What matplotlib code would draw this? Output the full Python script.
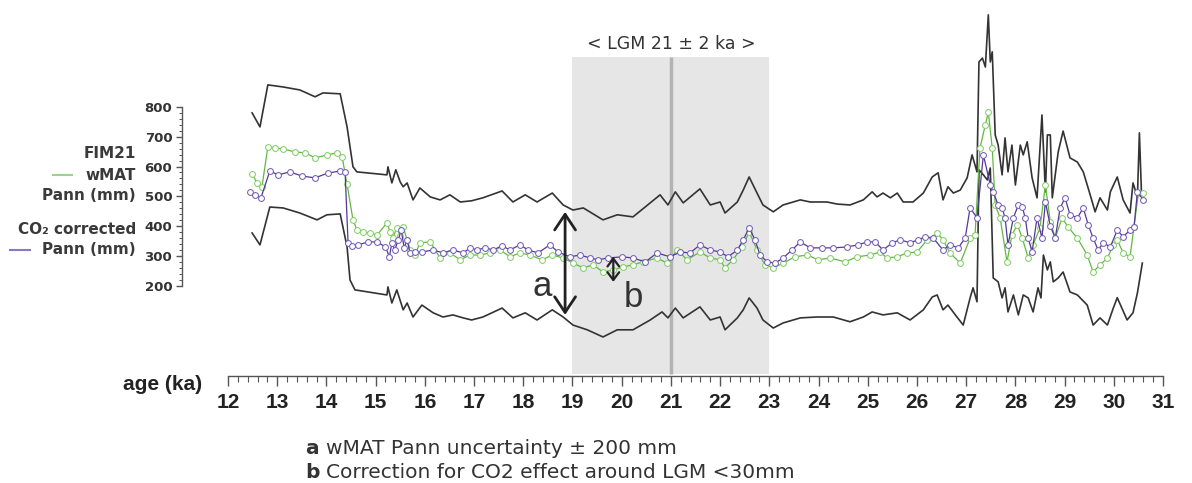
import matplotlib
matplotlib.use('Agg')
import matplotlib.pyplot as plt
from matplotlib.lines import Line2D
from matplotlib.ticker import MultipleLocator, FixedLocator

# ---------------- data ----------------
upper_age = [12.49, 12.65, 12.81, 13.12, 13.46, 13.77, 13.93, 14.28, 14.42, 14.54, 14.62,
             15.23, 15.25, 15.33, 15.41, 15.50, 15.56, 15.64, 15.76, 15.90, 16.11, 16.31,
             16.51, 16.72, 16.95, 17.18, 17.57, 17.79, 18.04, 18.28, 18.59, 18.81, 19.01,
             19.22, 19.62, 19.91, 20.23, 20.58, 20.78, 20.94, 21.09, 21.25, 21.59, 21.80,
             22.00, 22.10, 22.35, 22.47, 22.59, 22.75, 22.87, 23.08, 23.28, 23.63, 23.83,
             24.17, 24.38, 24.64, 24.91, 25.09, 25.19, 25.31, 25.46, 25.60, 25.72, 25.92,
             26.13, 26.31, 26.43, 26.53, 26.63, 26.74, 26.88, 27.02, 27.12, 27.22, 27.26,
             27.33, 27.39, 27.45, 27.49, 27.53, 27.59, 27.65, 27.73, 27.79, 27.85, 27.93,
             28.00, 28.10, 28.16, 28.24, 28.34, 28.44, 28.54, 28.61, 28.65, 28.71, 28.75,
             28.87, 28.97, 29.11, 29.26, 29.38, 29.52, 29.62, 29.72, 29.87, 29.93, 30.07,
             30.19, 30.33, 30.39, 30.48, 30.52, 30.56]
upper_val = [780, 733, 874, 867, 857, 834, 847, 844, 733, 599, 582,
             572, 599, 545, 589, 548, 532, 545, 488, 528, 498, 488,
             505, 481, 485, 495, 518, 481, 505, 481, 511, 471, 454,
             461, 421, 438, 431, 478, 505, 471, 515, 478, 525, 471,
             481, 444, 481, 521, 565, 511, 471, 448, 471, 488, 481,
             481, 474, 471, 488, 515, 498, 511, 495, 511, 481, 481,
             511, 565, 579, 488, 532, 511, 521, 562, 639, 582, 951,
             964, 934, 1109, 951, 985, 706, 672, 572, 696, 582, 672,
             538, 672, 639, 683, 562, 495, 773, 515, 706, 706, 495,
             649, 719, 629, 615, 582, 505, 448, 495, 454, 515, 565,
             488, 444, 545, 498, 713, 521]

lower_age = [12.49, 12.65, 12.85, 13.12, 13.46, 13.81, 14.01, 14.28, 14.42, 14.48, 14.58,
             15.23, 15.25, 15.33, 15.43, 15.56, 15.64, 15.76, 15.94, 16.17, 16.37, 16.57,
             16.78, 16.95, 17.18, 17.57, 17.79, 18.04, 18.28, 18.59, 18.81, 19.01, 19.30,
             19.62, 19.91, 20.23, 20.58, 20.82, 20.94, 21.09, 21.25, 21.59, 21.80, 22.00,
             22.10, 22.35, 22.47, 22.59, 22.75, 22.87, 23.08, 23.28, 23.63, 23.97, 24.30,
             24.64, 24.91, 25.09, 25.31, 25.60, 25.86, 26.13, 26.31, 26.41, 26.53, 26.63,
             26.78, 26.94, 27.08, 27.14, 27.22, 27.26, 27.35, 27.43, 27.49, 27.55, 27.65,
             27.73, 27.79, 27.85, 27.96, 28.06, 28.16, 28.26, 28.36, 28.46, 28.52, 28.57,
             28.65, 28.71, 28.77, 28.87, 28.97, 29.11, 29.26, 29.46, 29.58, 29.72, 29.87,
             29.99, 30.07, 30.27, 30.39, 30.48, 30.58]
lower_val = [377, 337, 464, 461, 444, 421, 438, 441, 330, 219, 186,
             169, 196, 142, 186, 119, 142, 95, 135, 109, 95, 102,
             92, 85, 95, 125, 92, 109, 85, 119, 95, 68, 52,
             28, 52, 52, 85, 112, 92, 125, 92, 129, 85, 95,
             52, 92, 119, 159, 125, 85, 58, 75, 92, 95, 95,
             79, 95, 112, 102, 109, 85, 119, 162, 169, 119, 135,
             102, 68, 159, 193, 146, 589, 572, 555, 595, 226, 213,
             159, 193, 112, 169, 102, 169, 159, 112, 193, 159, 303,
             253, 280, 213, 226, 246, 179, 169, 135, 68, 92, 68,
             125, 160, 85, 109, 176, 276]

wmat_age = [12.49, 12.59, 12.69, 12.81, 12.96, 13.12, 13.36, 13.57, 13.77, 14.01, 14.22,
            14.32, 14.42, 14.54, 14.62, 14.74, 14.89, 15.03, 15.23, 15.29, 15.35, 15.43,
            15.50, 15.56, 15.64, 15.70, 15.80, 15.90, 16.11, 16.31, 16.51, 16.72, 16.92,
            17.12, 17.33, 17.53, 17.73, 17.93, 18.14, 18.38, 18.59, 18.81, 19.01, 19.22,
            19.42, 19.62, 19.83, 20.03, 20.23, 20.43, 20.72, 20.92, 21.13, 21.33, 21.59,
            21.80, 22.00, 22.10, 22.26, 22.45, 22.59, 22.75, 22.91, 23.08, 23.28, 23.52,
            23.77, 23.99, 24.24, 24.54, 24.78, 25.05, 25.25, 25.39, 25.60, 25.80, 26.00,
            26.21, 26.41, 26.53, 26.67, 26.88, 27.08, 27.18, 27.28, 27.39, 27.45, 27.53,
            27.59, 27.69, 27.83, 27.93, 28.04, 28.14, 28.26, 28.36, 28.50, 28.61, 28.71,
            28.81, 28.95, 29.07, 29.26, 29.46, 29.58, 29.72, 29.87, 29.99, 30.07, 30.19,
            30.33, 30.41, 30.50, 30.60]
wmat_val = [575, 545, 532, 666, 662, 659, 649, 646, 629, 639, 646,
            632, 540, 421, 387, 381, 377, 370, 411, 381, 360, 394,
            367, 397, 354, 320, 303, 344, 347, 293, 310, 287, 303,
            303, 310, 320, 297, 310, 303, 287, 303, 293, 276, 260,
            270, 246, 253, 263, 270, 280, 293, 276, 320, 287, 313,
            293, 287, 260, 287, 330, 381, 320, 270, 260, 276, 297,
            303, 287, 293, 280, 297, 303, 313, 293, 297, 310, 313,
            354, 377, 354, 310, 276, 360, 370, 662, 740, 783, 662,
            471, 428, 280, 370, 404, 360, 293, 337, 394, 538, 414,
            360, 428, 397, 360, 303, 246, 270, 293, 337, 354, 310,
            297, 397, 511, 511]

co2_age = [12.45, 12.55, 12.67, 12.85, 13.02, 13.26, 13.50, 13.77, 14.03, 14.28, 14.38,
           14.44, 14.52, 14.64, 14.85, 15.03, 15.20, 15.28, 15.33, 15.39, 15.46, 15.52,
           15.58, 15.64, 15.70, 15.80, 15.94, 16.17, 16.37, 16.57, 16.78, 16.92, 17.06,
           17.22, 17.39, 17.57, 17.73, 17.93, 18.10, 18.30, 18.54, 18.71, 18.95, 19.15,
           19.36, 19.52, 19.72, 20.01, 20.23, 20.48, 20.72, 20.98, 21.19, 21.39, 21.59,
           21.80, 22.00, 22.16, 22.35, 22.47, 22.59, 22.71, 22.81, 22.96, 23.12, 23.28,
           23.46, 23.63, 23.83, 24.07, 24.30, 24.58, 24.80, 24.99, 25.15, 25.31, 25.50,
           25.66, 25.86, 26.02, 26.17, 26.33, 26.53, 26.67, 26.84, 26.98, 27.08, 27.22,
           27.35, 27.49, 27.55, 27.65, 27.73, 27.79, 27.85, 27.96, 28.06, 28.14, 28.20,
           28.26, 28.34, 28.44, 28.54, 28.61, 28.71, 28.81, 28.91, 29.01, 29.11, 29.26,
           29.38, 29.48, 29.58, 29.68, 29.79, 29.93, 30.07, 30.19, 30.33, 30.41, 30.48,
           30.60]
co2_val = [515, 505, 495, 585, 572, 582, 568, 562, 578, 585, 580,
           344, 334, 337, 347, 347, 330, 297, 344, 320, 354, 387,
           327, 354, 310, 313, 313, 320, 310, 320, 310, 327, 320,
           327, 320, 334, 320, 337, 320, 310, 337, 313, 297, 303,
           293, 287, 293, 297, 293, 280, 310, 297, 313, 310, 337,
           320, 313, 297, 320, 354, 394, 354, 303, 280, 276, 293,
           320, 347, 327, 327, 327, 330, 337, 347, 347, 320, 344,
           354, 344, 354, 364, 360, 320, 337, 327, 360, 461, 428,
           639, 538, 515, 471, 461, 428, 337, 428, 471, 464, 428,
           360, 313, 428, 360, 481, 400, 360, 461, 495, 438, 428,
           461, 404, 360, 320, 344, 330, 387, 364, 387, 397, 515,
           488]

x_ticks = list(range(12, 32))
x_tick_labels = [str(t) for t in x_ticks]
y_ticks = [200, 300, 400, 500, 600, 700, 800]
y_tick_labels = [str(t) for t in y_ticks]
y_minor_ticks = list(range(200, 801, 20))

lgm_start, lgm_end, lgm_center = 19, 23, 21

# ---------------- figure ----------------
W, H = 1192, 483
fig = plt.figure(figsize=(W / 100, H / 100), dpi=100)
ax = fig.add_axes([227 / W, (H - 376) / H, 937 / W, 368 / H])
ax.set_xlim(11.98, 31.02)
ax.set_ylim(-103, 1132)

# LGM band
ax.fill_between([lgm_start, lgm_end], -95, 968, color='#e6e6e6', lw=0, zorder=0)
ax.plot([lgm_center, lgm_center], [-95, 968], color='#b3b3b3', lw=2.5, zorder=1,
        solid_capstyle='butt')
ax.text(lgm_center, 1011, '< LGM 21 \u00b1 2 ka >', ha='center', va='center',
        fontsize=12.5, color='#333333', family='DejaVu Sans')

# envelopes
ax.plot(upper_age, upper_val, color='#333333', lw=1.2, zorder=2)
ax.plot(lower_age, lower_val, color='#333333', lw=1.2, zorder=2)

# series
ax.plot(wmat_age, wmat_val, color='#62b843', lw=0.9, marker='o', ms=4.2,
        mfc='white', mec='#86cf6a', mew=0.75, zorder=3)
ax.plot(co2_age, co2_val, color='#55369a', lw=0.9, marker='o', ms=4.2,
        mfc='white', mec='#7560b8', mew=0.75, zorder=4)

# arrows a and b
ax.annotate('', xy=(18.85, 102), xytext=(18.85, 448),
            arrowprops=dict(arrowstyle='<->,head_length=0.45,head_width=0.3',
                            lw=2.0, color='#222222', shrinkA=0, shrinkB=0,
                            mutation_scale=25), zorder=5)
ax.text(18.38, 196, 'a', ha='center', va='center', fontsize=25, color='#333333',
        family='Liberation Sans')
ax.annotate('', xy=(19.83, 213), xytext=(19.83, 297),
            arrowprops=dict(arrowstyle='<->,head_length=0.4,head_width=0.3',
                            lw=1.6, color='#222222', shrinkA=0, shrinkB=0,
                            mutation_scale=14), zorder=5)
ax.text(20.23, 162, 'b', ha='center', va='center', fontsize=25, color='#333333',
        family='Liberation Sans')

# axes styling
for s in ['top', 'right']:
    ax.spines[s].set_visible(False)
ax.spines['bottom'].set_bounds(12, 31)
ax.spines['left'].set_position(('outward', 32.4))
ax.spines['left'].set_bounds(200, 800)
for s in ['bottom', 'left']:
    ax.spines[s].set_color('#555555')
    ax.spines[s].set_linewidth(1.0)

ax.set_xticks(x_ticks, x_tick_labels, fontsize=15, fontweight='bold',
              family='Liberation Sans', color='#222222')
ax.xaxis.set_minor_locator(MultipleLocator(0.2))
ax.tick_params(axis='x', which='major', length=7, width=1, pad=5, color='#555555')
ax.tick_params(axis='x', which='minor', length=4.5, width=0.8, color='#555555')

ax.set_yticks(y_ticks, y_tick_labels, fontsize=9.5, fontweight='bold',
              family='DejaVu Sans', color='#333333')
ax.yaxis.set_minor_locator(FixedLocator(y_minor_ticks))
ax.tick_params(axis='y', which='major', length=4, width=1, pad=3, color='#555555')
ax.tick_params(axis='y', which='minor', length=2, width=0.7, color='#555555')

# axis label
fig.text(202 / W, 1 - 385 / H, 'age (ka)', ha='right', va='center', fontsize=15,
         fontweight='bold', family='Liberation Sans', color='#222222')

# left legend-like labels
lab_kw = dict(ha='right', va='center', fontsize=11, fontweight='bold',
              family='DejaVu Sans', color='#3a3a3a')
fig.text(136 / W, 1 - 154 / H, 'FIM21', **lab_kw)
fig.text(136 / W, 1 - 175 / H, 'wMAT', **lab_kw)
fig.text(136 / W, 1 - 196 / H, 'Pann (mm)', **lab_kw)
fig.text(136 / W, 1 - 230 / H, 'CO\u2082 corrected', **lab_kw)
fig.text(136 / W, 1 - 250 / H, 'Pann (mm)', **lab_kw)
fig.add_artist(Line2D([53 / W, 72 / W], [1 - 175 / H] * 2, color='#9ad486', lw=1.5))
fig.add_artist(Line2D([10 / W, 30 / W], [1 - 250 / H] * 2, color='#8a78c4', lw=1.5))

# bottom notes
note_kw = dict(ha='left', va='center', fontsize=14.5, family='DejaVu Sans',
               color='#333333')
fig.text(305 / W, 1 - 449 / H, 'a', fontweight='bold', **note_kw)
fig.text(326 / W, 1 - 449 / H, 'wMAT Pann uncertainty \u00b1 200 mm', **note_kw)
fig.text(305 / W, 1 - 472 / H, 'b', fontweight='bold', **note_kw)
fig.text(326 / W, 1 - 472 / H, 'Correction for CO2 effect around LGM <30mm', **note_kw)

fig.savefig('out.png', dpi=100)
